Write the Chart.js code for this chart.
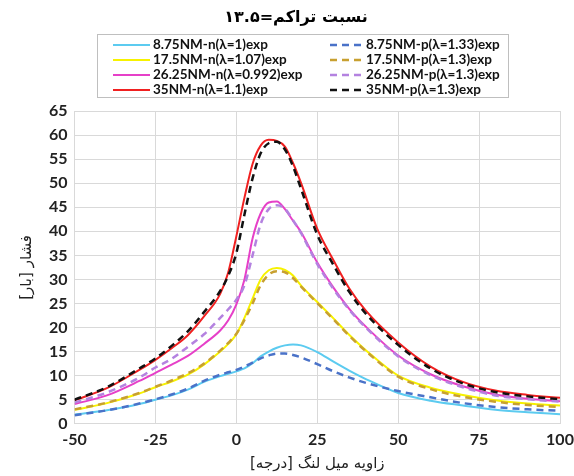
<!DOCTYPE html>
<html>
<head>
<meta charset="utf-8">
<script src="https://cdn.jsdelivr.net/npm/chart.js@4.4.1/dist/chart.umd.min.js"></script>
<style>
html, body { margin: 0; padding: 0; background: #fff; }
</style>
</head>
<body>
<canvas id="chart" width="574" height="476"></canvas>
<script>
// crank angle [deg]
var angles = [-50, -40, -30, -25, -20, -15, -10, -5, -2.5, 0, 2.5, 5, 7.5, 10, 12.5, 15, 17.5, 20, 25, 30, 35, 40, 50, 60, 70, 80, 90, 100];

// pressure [bar]
var n875 = [1.9, 2.8, 4.1, 5.0, 5.9, 7.1, 8.7, 9.9, 10.4, 10.9, 11.5, 12.6, 14.0, 15.0, 15.8, 16.3, 16.5, 16.3, 14.9, 12.9, 11.0, 9.3, 6.4, 4.8, 3.8, 2.9, 2.4, 2.0];
var p875 = [1.8, 2.8, 4.2, 5.1, 6.1, 7.3, 8.9, 10.2, 10.7, 11.2, 11.9, 12.7, 13.6, 14.2, 14.6, 14.6, 14.3, 13.8, 12.4, 10.9, 9.6, 8.5, 6.8, 5.5, 4.3, 3.5, 3.0, 2.7];
var n175 = [2.9, 4.3, 6.3, 7.6, 8.8, 10.2, 12.3, 15.0, 16.6, 18.6, 22.0, 26.0, 30.0, 31.9, 32.4, 32.0, 30.8, 28.7, 25.3, 21.9, 18.4, 15.3, 10.0, 7.5, 6.0, 4.9, 4.2, 3.8];
var p175 = [3.0, 4.4, 6.4, 7.7, 9.0, 10.5, 12.5, 15.2, 16.8, 18.7, 21.6, 25.0, 28.8, 31.0, 31.7, 31.5, 30.3, 28.5, 25.1, 21.7, 18.2, 15.1, 9.8, 7.2, 5.6, 4.6, 3.9, 3.5];
var n2625 = [4.1, 5.9, 8.9, 10.6, 12.3, 14.1, 16.6, 19.4, 21.5, 24.8, 30.0, 38.5, 43.7, 46.0, 46.2, 44.6, 42.2, 39.8, 33.5, 28.3, 23.8, 20.2, 14.2, 10.3, 7.8, 6.1, 5.2, 4.7];
var p2625 = [4.4, 6.5, 9.6, 11.7, 13.5, 16.0, 18.6, 22.0, 23.8, 25.8, 28.8, 35.0, 41.5, 44.6, 45.4, 44.7, 42.3, 39.6, 33.2, 28.0, 23.6, 20.0, 14.0, 10.1, 7.6, 5.9, 5.1, 4.6];
var n35 = [4.9, 7.4, 11.2, 13.3, 15.7, 18.4, 22.3, 27.0, 31.5, 39.0, 47.0, 54.0, 57.8, 59.0, 58.8, 57.6, 54.2, 50.0, 40.5, 34.0, 28.0, 23.5, 16.9, 11.9, 8.7, 6.9, 6.0, 5.4];
var p35 = [5.0, 7.6, 11.5, 13.6, 16.2, 19.2, 23.2, 27.6, 30.8, 35.5, 43.5, 51.0, 56.2, 58.3, 58.6, 57.0, 53.5, 48.8, 39.3, 33.0, 27.3, 22.9, 16.4, 11.5, 8.4, 6.6, 5.7, 5.1];

var seriesLabels = ['8.75NM-n(λ=1)exp', '8.75NM-p(λ=1.33)exp',
                    '17.5NM-n(λ=1.07)exp', '17.5NM-p(λ=1.3)exp',
                    '26.25NM-n(λ=0.992)exp', '26.25NM-p(λ=1.3)exp',
                    '35NM-n(λ=1.1)exp', '35NM-p(λ=1.3)exp'];
var seriesValues = [n875, p875, n175, p175, n2625, p2625, n35, p35];
var seriesColors = ['#5ccbf0', '#4a72c8', '#f7f200', '#c8a030', '#e640c8', '#b482e0', '#f02020', '#111111'];

var chartTitle = 'نسبت تراکم=۱۳.۵';
var xTitle = 'زاویه میل لنگ [درجه]\u200F';
var yTitle = 'فشار [بار]\u200F';

function toPoints(vals) {
    return vals.map(function (v, i) { return { x: angles[i], y: v }; });
}

var datasets = seriesValues.map(function (vals, i) {
    var dashed = i % 2 === 1;
    return {
        label: seriesLabels[i],
        data: toPoints(vals),
        borderColor: seriesColors[i],
        backgroundColor: seriesColors[i],
        borderWidth: dashed ? 2.5 : 2,
        borderDash: dashed ? [7, 5] : [],
        pointRadius: 0,
        fill: false,
        cubicInterpolationMode: 'monotone',
        order: dashed ? 0 : 1
    };
});

// title + boxed two-column legend drawn by hand
var legendBox = {
    id: 'legendBox',
    afterDraw: function (chart) {
        var ctx = chart.ctx;
        ctx.save();
        ctx.fillStyle = '#000';
        ctx.textAlign = 'center';
        ctx.textBaseline = 'middle';
        ctx.font = 'bold 16px "DejaVu Sans"';
        ctx.fillText(chartTitle, 296, 18);

        ctx.strokeStyle = '#bfbfbf';
        ctx.lineWidth = 1;
        ctx.strokeRect(97.5, 34.5, 411, 63);

        chart.data.datasets.forEach(function (ds, i) {
            var col = i % 2, row = Math.floor(i / 2);
            var y = 45 + row * 15;
            var x0 = col ? 330 : 113, x1 = col ? 363 : 150;
            ctx.beginPath();
            ctx.setLineDash(ds.borderDash);
            ctx.strokeStyle = ds.borderColor;
            ctx.lineWidth = ds.borderWidth;
            ctx.moveTo(x0, y);
            ctx.lineTo(x1, y);
            ctx.stroke();
            ctx.setLineDash([]);
            ctx.fillStyle = '#111';
            ctx.textAlign = 'left';
            ctx.font = 'bold 13.5px Lato';
            ctx.fillText(ds.label, x1 + 3, y);
        });
        ctx.restore();
    }
};

var chart = new Chart(document.getElementById('chart'), {
    type: 'line',
    data: { datasets: datasets },
    options: {
        responsive: false,
        animation: false,
        layout: { padding: { top: 111, right: 0, left: 10, bottom: 3 } },
        plugins: {
            legend: { display: false },
            title: { display: false },
            tooltip: { enabled: false }
        },
        scales: {
            x: {
                type: 'linear',
                min: -50,
                max: 100,
                afterFit: function (scale) { scale.paddingRight = 14; },
                ticks: { stepSize: 25, color: '#222', font: { family: 'Lato', size: 16, weight: 'bold' }, padding: 6 },
                grid: { color: '#d9d9d9', drawTicks: false },
                border: { color: '#d9d9d9' },
                title: { display: true, text: xTitle, color: '#222', font: { family: 'DejaVu Sans', size: 15 }, padding: { top: 0, bottom: 0 } }
            },
            y: {
                min: 0,
                max: 65,
                ticks: { stepSize: 5, color: '#222', font: { family: 'Lato', size: 16, weight: 'bold' }, padding: 7 },
                grid: { color: '#d9d9d9', drawTicks: false },
                border: { color: '#d9d9d9' },
                title: { display: true, text: yTitle, color: '#222', font: { family: 'DejaVu Sans', size: 15 }, padding: { top: 8, bottom: 6 } }
            }
        }
    },
    plugins: [legendBox]
});
</script>
</body>
</html>
